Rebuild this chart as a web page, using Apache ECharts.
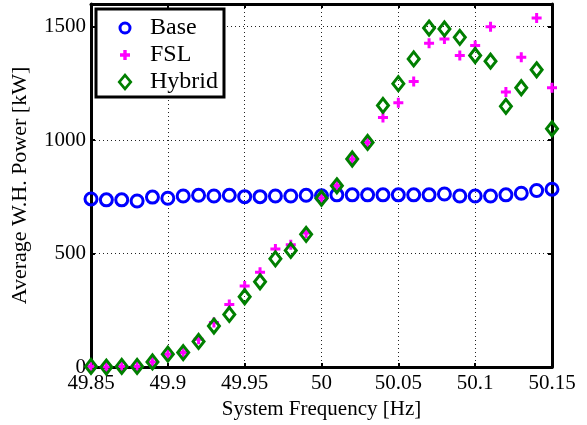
<!DOCTYPE html>
<html>
<head>
<meta charset="utf-8">
<script src="https://cdn.jsdelivr.net/npm/echarts@6/dist/echarts.min.js"></script>
<style>
  html, body { margin: 0; background: #fff; }
  #chart { width: 587px; height: 425px; }
</style>
</head>
<body>
<div id="chart"></div>
<script>
// system frequency [Hz]
const freq = [49.85, 49.86, 49.87, 49.88, 49.89, 49.90, 49.91, 49.92, 49.93, 49.94,
              49.95, 49.96, 49.97, 49.98, 49.99, 50.00, 50.01, 50.02, 50.03, 50.04,
              50.05, 50.06, 50.07, 50.08, 50.09, 50.10, 50.11, 50.12, 50.13, 50.14, 50.15];
// average W.H. power [kW]
const base = [741, 737, 737, 732, 749, 744, 754, 757, 754, 757, 751, 751, 754, 754, 757,
              755, 759, 759, 759, 759, 759, 759, 759, 763, 754, 754, 754, 759, 766, 778, 784];
const fsl = [3, 0, 3, 3, 23, 57, 64, 123, 196, 276, 357, 418, 520, 539, 591,
             745, 800, 917, 990, 1100, 1165, 1259, 1427, 1446, 1373, 1417, 1500, 1212, 1365, 1538, 1231];
const hybrid = [3, 0, 3, 3, 23, 57, 64, 113, 181, 232, 310, 376, 477, 514, 585,
                744, 799, 917, 990, 1153, 1249, 1358, 1494, 1490, 1453, 1373, 1348, 1149, 1231, 1310, 1050];
const yTicks = [0, 500, 1000, 1500];

const serif = '"Liberation Serif", "DejaVu Serif", serif';
const plus = 'path://M3.5,0h3v3.5h3.5v3h-3.5v3.5h-3v-3.5h-3.5v-3h3.5z';

// legend icons drawn in an 18x18 box (tiny corner specks fix the box size)
const box = 'M0,0L0.01,0L0,0.01Z M18,18L17.99,18L18,17.99Z ';
const ringIcon = 'path://' + box +
  'M2.5,9A6.5,6.5 0 1,0 15.5,9A6.5,6.5 0 1,0 2.5,9Z M5.5,9A3.5,3.5 0 1,1 12.5,9A3.5,3.5 0 1,1 5.5,9Z';
const plusIcon = 'path://' + box +
  'M7.3,4h3.4v3.3h3.3v3.4h-3.3v3.3h-3.4v-3.3h-3.3v-3.4h3.3Z';
const diamondIcon = 'path://' + box +
  'M9,0L16.5,9L9,18L1.5,9Z M9,4.2L5,9L9,13.8L13,9Z';

const pair = (ys) => freq.map((f, i) => [f, ys[i]]);

const myChart = echarts.init(document.getElementById('chart'));

const frameAxis = {
  axisLine: { show: true, onZero: false, lineStyle: { color: '#000', width: 3 } },
  axisTick: { show: true, inside: true, length: 4, lineStyle: { color: '#000', width: 2 } }
};
const dotted = { show: true, lineStyle: { color: '#222', width: 1, type: [1, 3] } };

myChart.setOption({
  animation: false,
  backgroundColor: '#fff',
  grid: { left: 91, right: 35, top: 4, bottom: 57 },
  legend: {
    orient: 'vertical',
    left: 96, top: 9,
    backgroundColor: '#fff',
    borderColor: '#000', borderWidth: 3, borderRadius: 0,
    padding: [7, 6, 3, 20],
    itemGap: 3,
    itemWidth: 18, itemHeight: 18,
    textStyle: { fontFamily: serif, fontSize: 24, color: '#000', padding: [0, 0, 0, 11] },
    data: [
      { name: 'Base', icon: ringIcon, itemStyle: { color: '#0000ff', borderWidth: 0 } },
      { name: 'FSL', icon: plusIcon, itemStyle: { color: '#ff00ff', borderWidth: 0 } },
      { name: 'Hybrid', icon: diamondIcon, itemStyle: { color: '#007f00', borderWidth: 0 } }
    ]
  },
  xAxis: [{
    type: 'value', min: 49.85, max: 50.15, interval: 0.05,
    name: 'System Frequency [Hz]', nameLocation: 'middle', nameGap: 29,
    nameTextStyle: { fontFamily: serif, fontSize: 21, color: '#000' },
    ...frameAxis,
    axisLabel: {
      fontFamily: serif, fontSize: 21, color: '#000', margin: 6,
      formatter: (v) => String(parseFloat(v.toFixed(2)))
    },
    splitLine: dotted
  }, {
    type: 'value', position: 'top', min: 49.85, max: 50.15, interval: 0.05,
    ...frameAxis, axisLabel: { show: false }, splitLine: { show: false }
  }],
  yAxis: [{
    type: 'value', min: 0, max: 1600, interval: 500,
    name: 'Average W.H. Power [kW]', nameLocation: 'middle', nameGap: 60,
    nameTextStyle: { fontFamily: serif, fontSize: 22, color: '#000' },
    ...frameAxis,
    axisLabel: {
      fontFamily: serif, fontSize: 21, color: '#000', margin: 5,
      formatter: (v) => (yTicks.indexOf(v) >= 0 ? String(v) : '')
    },
    splitLine: dotted
  }, {
    type: 'value', position: 'right', min: 0, max: 1600, interval: 500,
    ...frameAxis, axisLabel: { show: false }, splitLine: { show: false }
  }],
  series: [{
    name: 'Base', type: 'scatter', data: pair(base),
    symbol: 'circle', symbolSize: 12,
    itemStyle: { color: 'rgba(255,255,255,0)', borderColor: '#0000ff', borderWidth: 3, opacity: 1 }
  }, {
    name: 'FSL', type: 'scatter', data: pair(fsl),
    symbol: plus, symbolSize: 10,
    itemStyle: { color: '#ff00ff', opacity: 1 }
  }, {
    name: 'Hybrid', type: 'scatter', data: pair(hybrid),
    symbol: 'diamond', symbolSize: [11, 14],
    itemStyle: { color: 'rgba(255,255,255,0)', borderColor: '#007f00', borderWidth: 3, opacity: 1 }
  }]
});

window.addEventListener('resize', () => {
  myChart.resize();
});
</script>
</body>
</html>
